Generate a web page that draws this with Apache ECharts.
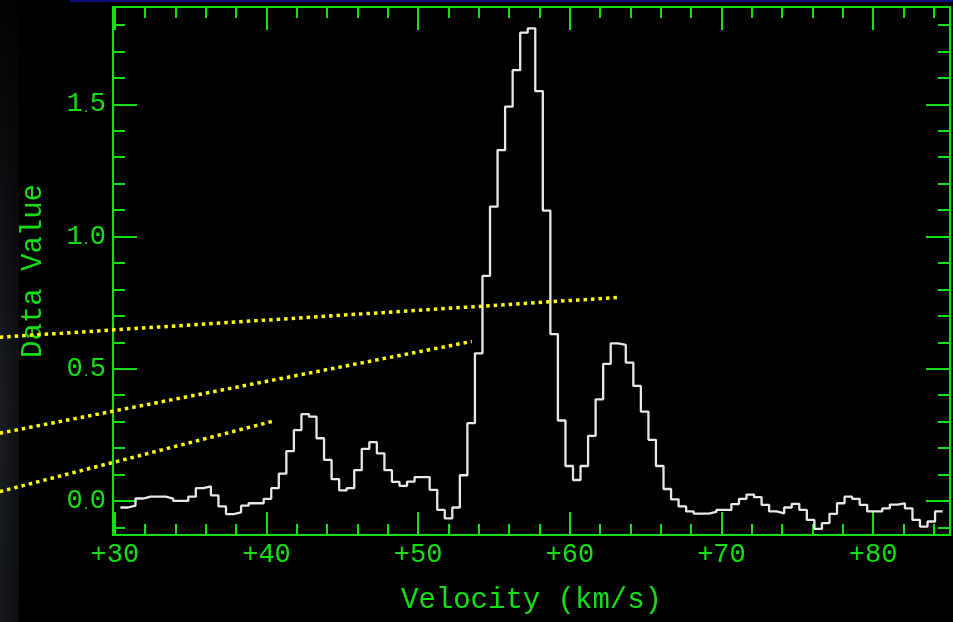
<!DOCTYPE html>
<html>
<head>
<meta charset="utf-8">
<script src="https://cdn.jsdelivr.net/npm/echarts@6/dist/echarts.min.js"></script>
<style>
  html, body { margin: 0; padding: 0; background: #000; }
  #chart { width: 953px; height: 622px; }
</style>
</head>
<body>
<div id="chart"></div>
<script>
// ---- data ----
const velocityStart = 30.367;   // left edge of first channel (km/s)
const channelWidth = 0.4974;    // channel width (km/s)
const intensity = [
  -0.025, -0.018, 0.009, 0.016, 0.016, 0.016, 0.009, 0.000, 0.000, 0.016,
   0.048,  0.055, 0.021, -0.021, -0.050, -0.043, -0.018, -0.009, -0.009, 0.008,
   0.048,  0.103, 0.188, 0.268, 0.328, 0.319, 0.237, 0.155, 0.082, 0.040,
   0.048,  0.116, 0.197, 0.222, 0.180, 0.116, 0.072, 0.057, 0.073, 0.090,
   0.090,  0.042, -0.034, -0.066, -0.025, 0.097, 0.294, 0.558, 0.851, 1.113,
   1.327,  1.491, 1.629, 1.771, 1.787, 1.550, 1.098, 0.631, 0.304, 0.132,
   0.079,  0.132, 0.246, 0.384, 0.518, 0.596, 0.590, 0.523, 0.435, 0.338,
   0.231,  0.132, 0.045, 0.006, -0.021, -0.040, -0.048, -0.048, -0.042, -0.034,
  -0.034, -0.012, 0.008, 0.024, 0.014, -0.015, -0.040, -0.047, -0.025, -0.011,
  -0.034, -0.072, -0.106, -0.084, -0.049, -0.009, 0.016, 0.008, -0.015, -0.040,
  -0.040, -0.028, -0.014, -0.009, -0.028, -0.072, -0.097, -0.078, -0.040
];
const xMajorTicks = [30, 40, 50, 60, 70, 80];
const xMinorTicks = [30, 32, 34, 36, 38, 40, 42, 44, 46, 48, 50, 52, 54, 56, 58,
                     60, 62, 64, 66, 68, 70, 72, 74, 76, 78, 80, 82, 84];
const yMajorTicks = [0.0, 0.5, 1.0, 1.5];
const yMinorTicks = [-0.1, 0.0, 0.1, 0.2, 0.3, 0.4, 0.5, 0.6, 0.7, 0.8, 0.9,
                     1.0, 1.1, 1.2, 1.3, 1.4, 1.5, 1.6, 1.7, 1.8];
const xRange = [29.88, 85.07];
const yRange = [-0.129, 1.868];
// yellow dotted annotation lines (velocity, value) end points
const pointerLine1 = [[22.41, 0.619], [63.30, 0.770]];
const pointerLine2 = [[22.41, 0.256], [53.54, 0.603]];
const pointerLine3 = [[22.41, 0.035], [40.61, 0.304]];
const xTitle = 'Velocity (km/s)';
const yTitle = 'Data Value';

// ---- build ----
const GREEN = '#12e012';
const FONT = 'Liberation Mono';
const stepData = intensity.map((v, i) => [velocityStart + i * channelWidth, v]);
stepData.push([velocityStart + intensity.length * channelWidth, intensity[intensity.length - 1]]);

function xAxisDef(pos, ticks, len, withLabel) {
  return {
    type: 'value', position: pos, min: xRange[0], max: xRange[1],
    axisLine: { show: true, onZero: false, lineStyle: { color: GREEN, width: 2 } },
    axisTick: { show: true, inside: true, length: len, customValues: ticks,
                lineStyle: { color: GREEN, width: 2 } },
    axisLabel: withLabel ? {
      show: true, customValues: xMajorTicks, color: GREEN, fontFamily: FONT,
      fontSize: 27, margin: 6, formatter: v => '+' + Math.round(v)
    } : { show: false },
    splitLine: { show: false },
    name: withLabel ? xTitle : '', nameLocation: 'middle', nameGap: 51,
    nameTextStyle: { color: GREEN, fontFamily: FONT, fontSize: 29 }
  };
}
function yAxisDef(pos, ticks, len, withLabel) {
  return {
    type: 'value', position: pos, min: yRange[0], max: yRange[1],
    axisLine: { show: true, onZero: false, lineStyle: { color: GREEN, width: 2 } },
    axisTick: { show: true, inside: true, length: len, customValues: ticks,
                lineStyle: { color: GREEN, width: 2 } },
    axisLabel: withLabel ? {
      show: true, customValues: yMajorTicks, color: GREEN, margin: 7,
      formatter: v => { const s = v.toFixed(1).split('.'); return '{d|' + s[0] + '}{p|.}{d|' + s[1] + '}'; },
      rich: {
        d: { color: GREEN, fontFamily: FONT, fontSize: 27 },
        p: { color: GREEN, fontFamily: FONT, fontSize: 12, padding: [9, 0, 0, 0] }
      }
    } : { show: false },
    splitLine: { show: false },
    name: withLabel ? yTitle : '', nameLocation: 'middle', nameGap: 65, nameRotate: 90,
    nameTextStyle: { color: GREEN, fontFamily: FONT, fontSize: 29 }
  };
}

const chart = echarts.init(document.getElementById('chart'), null, { renderer: 'canvas' });
const baseGraphic = [
  { id: 'stripV', type: 'rect', left: 0, top: 0, shape: { width: 19, height: 622 }, silent: true, z: -10,
    style: { fill: new echarts.graphic.LinearGradient(0, 0, 0, 1, [
      { offset: 0, color: '#020203' }, { offset: 0.3, color: '#0d0f12' },
      { offset: 0.65, color: '#1b1e23' }, { offset: 1, color: '#15181c' }]) } },
  { id: 'stripH', type: 'rect', left: 0, top: 0, shape: { width: 19, height: 622 }, silent: true, z: -9,
    style: { fill: new echarts.graphic.LinearGradient(0, 0, 1, 0, [
      { offset: 0, color: 'rgba(0,0,0,0)' }, { offset: 1, color: 'rgba(0,0,0,0.45)' }]) } },
  { id: 'topBar', type: 'rect', left: 70, top: 0, shape: { width: 883, height: 2 }, silent: true,
    style: { fill: '#0b0b80' } }
];
chart.setOption({
  backgroundColor: '#000000',
  animation: false,
  graphic: baseGraphic,
  grid: { left: 113, right: 3, top: 7, bottom: 87, containLabel: false, outerBoundsMode: 'none' },
  xAxis: [
    xAxisDef('bottom', xMajorTicks, 23, true),
    xAxisDef('bottom', xMinorTicks, 11, false),
    xAxisDef('top', xMajorTicks, 23, false),
    xAxisDef('top', xMinorTicks, 11, false)
  ],
  yAxis: [
    yAxisDef('left', yMajorTicks, 24, true),
    yAxisDef('left', yMinorTicks, 12, false),
    yAxisDef('right', yMajorTicks, 24, false),
    yAxisDef('right', yMinorTicks, 12, false)
  ],
  series: [
    { type: 'line', name: 'spectrum', data: stepData, step: 'end', showSymbol: false,
      xAxisIndex: 0, yAxisIndex: 0, lineStyle: { color: '#e8e8e8', width: 2.3 }, z: 3 }
  ]
});

// pointer lines extend beyond the plot frame: convert through the chart's own scales
const pointerGraphics = [pointerLine1, pointerLine2, pointerLine3].map((line, k) => ({
  id: 'pointer' + k, type: 'polyline', silent: true, z: 100,
  shape: { points: line.map(p => chart.convertToPixel({ xAxisIndex: 0, yAxisIndex: 0 }, p)) },
  style: { stroke: '#ffff00', lineWidth: 3.5, lineDash: [3.5, 4], lineCap: 'butt', fill: null }
}));
chart.setOption({ graphic: baseGraphic.concat(pointerGraphics) });
</script>
</body>
</html>
